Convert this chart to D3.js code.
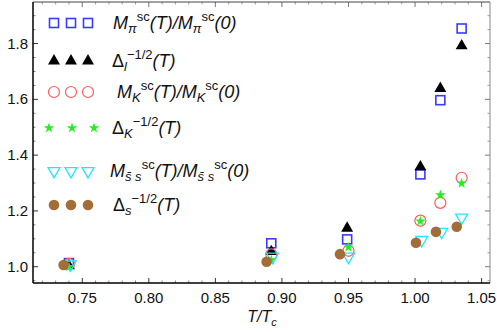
<!DOCTYPE html>
<html>
<head>
<meta charset="utf-8">
<script src="https://cdn.jsdelivr.net/npm/d3@7"></script>
<style>
  body { margin: 0; background: #fff; }
  svg { font-family: "Liberation Sans", Arial, sans-serif; }
</style>
</head>
<body>
<svg id="chart" width="497" height="333"></svg>
<script>
// values
const tPi = [0.740, 0.892, 0.949, 1.004, 1.019, 1.035];
const mPi = [1.013, 1.084, 1.098, 1.331, 1.597, 1.854];
const tL = [0.740, 0.892, 0.949, 1.004, 1.019, 1.035];
const deltaL = [1.003, 1.054, 1.138, 1.358, 1.639, 1.792];
const tK = [0.740, 0.892, 0.950, 1.004, 1.019, 1.035];
const mK = [1.010, 1.044, 1.057, 1.165, 1.229, 1.319];
const deltaK = [1.000, 1.024, 1.070, 1.163, 1.257, 1.299];
const tSs = [0.741, 0.893, 0.950, 1.005, 1.020, 1.035];
const mSs = [1.008, 1.036, 1.036, 1.096, 1.125, 1.176];
const tS = [0.736, 0.8885, 0.9436, 1.0007, 1.0157, 1.0313];
const deltaS = [1.006, 1.018, 1.045, 1.086, 1.125, 1.143];

const xTicks = [0.75, 0.80, 0.85, 0.90, 0.95, 1.00, 1.05];
const yTicks = [1.0, 1.2, 1.4, 1.6, 1.8];

const W = 497, H = 333;
const margin = { top: 2, right: 7, bottom: 50, left: 33 };

const svg = d3.select("#chart");

const x = d3.scaleLinear().domain([0.713, 1.0563]).range([margin.left, W - margin.right]);
const y = d3.scaleLinear().domain([0.9416, 1.949]).range([H - margin.bottom, margin.top]);

// frame ticks (inward, Mathematica style)
const xMinor = d3.range(0.72, 1.056, 0.01).filter(v => !xTicks.some(t => Math.abs(t - v) < 1e-6));
const yMinor = d3.range(0.95, 1.95, 0.05).filter(v => !yTicks.some(t => Math.abs(t - v) < 1e-6));

const tickGroup = svg.append("g").attr("stroke", "#000").attr("stroke-width", 0.8);
const fBottom = H - margin.bottom, fTop = margin.top, fLeft = margin.left, fRight = W - margin.right;

xTicks.forEach(t => {
  tickGroup.append("line").attr("x1", x(t)).attr("x2", x(t)).attr("y1", fBottom).attr("y2", fBottom - 5);
  tickGroup.append("line").attr("x1", x(t)).attr("x2", x(t)).attr("y1", fTop).attr("y2", fTop + 5).attr("stroke", "#555");
});
xMinor.forEach(t => {
  tickGroup.append("line").attr("x1", x(t)).attr("x2", x(t)).attr("y1", fBottom).attr("y2", fBottom - 2.5).attr("stroke", "#666");
  tickGroup.append("line").attr("x1", x(t)).attr("x2", x(t)).attr("y1", fTop).attr("y2", fTop + 2.5).attr("stroke", "#888");
});
yTicks.forEach(t => {
  tickGroup.append("line").attr("x1", fLeft).attr("x2", fLeft + 5).attr("y1", y(t)).attr("y2", y(t));
  tickGroup.append("line").attr("x1", fRight).attr("x2", fRight - 5).attr("y1", y(t)).attr("y2", y(t)).attr("stroke", "#555");
});
yMinor.forEach(t => {
  tickGroup.append("line").attr("x1", fLeft).attr("x2", fLeft + 2.5).attr("y1", y(t)).attr("y2", y(t)).attr("stroke", "#666");
  tickGroup.append("line").attr("x1", fRight).attr("x2", fRight - 2.5).attr("y1", y(t)).attr("y2", y(t)).attr("stroke", "#888");
});

// frame
svg.append("line").attr("x1", fLeft).attr("x2", fRight).attr("y1", fTop).attr("y2", fTop)
  .attr("stroke", "#444").attr("stroke-width", 1);
svg.append("line").attr("x1", fRight).attr("x2", fRight).attr("y1", fTop).attr("y2", fBottom)
  .attr("stroke", "#888").attr("stroke-width", 1);
svg.append("line").attr("x1", fLeft).attr("x2", fLeft).attr("y1", fTop).attr("y2", fBottom)
  .attr("stroke", "#000").attr("stroke-width", 1.5);
svg.append("line").attr("x1", fLeft).attr("x2", fRight).attr("y1", fBottom).attr("y2", fBottom)
  .attr("stroke", "#000").attr("stroke-width", 1.5);

// tick labels
svg.append("g").selectAll("text")
  .data(xTicks)
  .join("text")
  .attr("x", d => x(d))
  .attr("y", fBottom + 20)
  .attr("text-anchor", "middle")
  .attr("font-size", 15)
  .attr("fill", "#111")
  .text(d => d3.format(".2f")(d));

svg.append("g").selectAll("text")
  .data(yTicks)
  .join("text")
  .attr("x", fLeft - 5)
  .attr("y", d => y(d) + 5)
  .attr("text-anchor", "end")
  .attr("font-size", 15)
  .attr("fill", "#111")
  .text(d => d3.format(".1f")(d));

// axis label T/T_c
const xl = svg.append("text")
  .attr("x", 262)
  .attr("y", 322)
  .attr("text-anchor", "middle")
  .attr("font-size", 16)
  .attr("font-style", "italic")
  .attr("fill", "#111");
xl.append("tspan").text("T/T");
xl.append("tspan").attr("font-size", 11).attr("dy", 4).text("c");

// markers
const triUp = d3.symbol().type(d3.symbolTriangle).size(62)();
const triDown = d3.symbol().type(d3.symbolTriangle).size(62)();
const star = d3.symbol().type(d3.symbolStar).size(34)();
const dot = d3.symbol().type(d3.symbolCircle).size(88)();
const ring = d3.symbol().type(d3.symbolCircle).size(95)();

const series = [
  { t: tPi, v: mPi, kind: "square" },
  { t: tL, v: deltaL, kind: "triUp" },
  { t: tK, v: mK, kind: "ring" },
  { t: tK, v: deltaK, kind: "star" },
  { t: tSs, v: mSs, kind: "triDown" },
  { t: tS, v: deltaS, kind: "dot" }
];

const drawMarker = (g, kind, cx, cy) => {
  if (kind === "square") {
    g.append("rect").attr("x", cx - 4.5).attr("y", cy - 4.5).attr("width", 9).attr("height", 9)
      .attr("fill", "none").attr("stroke", "#3a3aff").attr("stroke-width", 1.6);
  } else if (kind === "triUp") {
    g.append("path").attr("d", triUp).attr("transform", `translate(${cx},${cy})`).attr("fill", "#000");
  } else if (kind === "ring") {
    g.append("path").attr("d", ring).attr("transform", `translate(${cx},${cy})`)
      .attr("fill", "none").attr("stroke", "#ff5a5a").attr("stroke-width", 1.2);
  } else if (kind === "star") {
    g.append("path").attr("d", star).attr("transform", `translate(${cx},${cy})`).attr("fill", "#22ee22");
  } else if (kind === "triDown") {
    g.append("path").attr("d", triDown).attr("transform", `translate(${cx},${cy}) rotate(180)`)
      .attr("fill", "none").attr("stroke", "#22e6ff").attr("stroke-width", 1.3);
  } else if (kind === "dot") {
    g.append("path").attr("d", dot).attr("transform", `translate(${cx},${cy})`).attr("fill", "#a36d38");
  }
};

const marks = svg.append("g");
series.forEach(s => {
  s.v.forEach((v, i) => drawMarker(marks, s.kind, x(s.t[i]), y(v)));
});

// legend
const sup = (el, txt) => el.append("tspan").attr("font-size", 13).attr("font-style", "normal").text(txt);
const sub = (el, txt) => el.append("tspan").attr("font-size", 13).attr("dy", 4).text(txt);
const reset = (el, dy, txt) => el.append("tspan").attr("dy", dy).text(txt);

const legendRows = [
  { kind: "square", y: 23, tx: 113 },
  { kind: "triUp", y: 61, tx: 112 },
  { kind: "ring", y: 92, tx: 117 },
  { kind: "star", y: 128, tx: 112 },
  { kind: "triDown", y: 171, tx: 110 },
  { kind: "dot", y: 205, tx: 113 }
];

const legend = svg.append("g");
legendRows.forEach((r, i) => {
  const xs = r.kind === "star" ? [49, 72, 94] : [54, 71, 88];
  xs.forEach(mx => drawMarker(legend, r.kind, mx, r.y));
  const t = legend.append("text")
    .attr("x", r.tx).attr("y", r.y + 6)
    .attr("font-size", 18).attr("font-style", "italic").attr("fill", "#111");
  if (i === 0 || i === 2 || i === 4) {
    const s = i === 0 ? "π" : i === 2 ? "K" : "s̄ s";
    t.append("tspan").text("M");
    sub(t, s);
    sup(t, "sc").attr("dy", -12);
    reset(t, 8, "(T)/M");
    sub(t, s);
    sup(t, "sc").attr("dy", -12);
    reset(t, 8, "(0)");
  } else {
    const s = i === 1 ? "l" : i === 3 ? "K" : "s";
    t.append("tspan").attr("font-style", "normal").text("Δ");
    sub(t, s);
    sup(t, "−1/2").attr("dy", -12);
    reset(t, 8, "(T)");
  }
});
</script>
</body>
</html>
